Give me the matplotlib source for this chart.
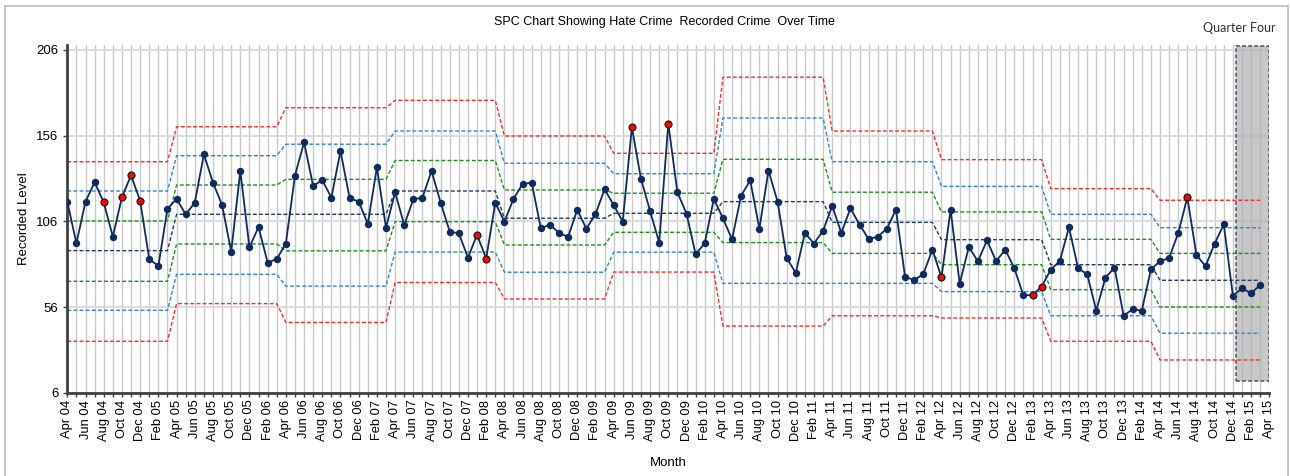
import matplotlib
matplotlib.use("Agg")
import matplotlib.pyplot as plt  # noqa: E402
import numpy as np  # noqa: E402
from matplotlib.lines import Line2D  # noqa: E402
from matplotlib.patches import Rectangle  # noqa: E402

plt.rcParams["font.family"] = ["Liberation Sans", "DejaVu Sans"]

# monthly recorded hate crime, Apr 04 .. Mar 15
recorded = [
    117.5, 93.2, 117.5, 128.8, 117.1, 97.1, 120.0, 132.9, 117.9, 84.0, 79.9, 113.4,
    119.1, 110.1, 116.9, 145.1, 128.6, 115.5, 88.3, 135.4, 90.8, 102.7, 81.9, 84.0,
    93.0, 132.7, 152.1, 126.6, 130.1, 119.8, 147.1, 119.6, 117.5, 104.5, 137.5, 102.3,
    122.9, 103.9, 118.9, 119.8, 135.4, 116.9, 100.0, 99.0, 84.8, 98.2, 84.2, 116.9,
    105.8, 119.1, 127.8, 128.6, 101.9, 104.1, 99.2, 96.9, 112.8, 101.7, 110.1, 124.7,
    115.5, 105.8, 160.9, 130.7, 112.0, 93.6, 163.0, 122.9, 110.5, 86.8, 93.2, 119.1,
    107.8, 95.5, 121.0, 129.9, 101.7, 135.6, 117.5, 84.6, 75.9, 99.2, 93.0, 100.6,
    115.0, 99.2, 113.6, 104.1, 95.7, 97.1, 101.7, 112.8, 73.5, 71.8, 75.1, 89.5,
    73.3, 112.8, 69.6, 91.0, 82.7, 94.9, 82.7, 89.5, 78.6, 62.8, 63.0, 67.9,
    77.8, 82.9, 102.5, 78.6, 75.1, 53.9, 73.1, 79.0, 51.0, 54.7, 53.9, 78.0,
    82.7, 84.6, 99.2, 120.0, 86.2, 79.9, 93.0, 104.3, 62.6, 66.9, 64.0, 68.9,
]
flagged = [4, 6, 7, 8, 45, 46, 62, 66, 96, 106, 107, 123]

# control limits per financial year (Apr-Mar), 2004/05 .. 2014/15
ucl = [140.8, 161.2, 172.3, 176.6, 155.8, 145.7, 190.1, 158.7, 142.0, 125.1, 118.3]
upper_2s = [123.7, 144.3, 151.0, 158.7, 139.9, 133.8, 166.3, 140.8, 126.4, 110.1, 102.3]
upper_1s = [106.2, 127.2, 130.5, 141.5, 124.3, 122.4, 142.2, 123.0, 111.5, 95.5, 87.3]
mean = [88.9, 110.1, 110.1, 123.7, 107.8, 110.7, 117.5, 105.4, 95.3, 80.7, 71.6]
lower_1s = [71.0, 92.8, 88.8, 105.8, 92.2, 99.6, 93.6, 87.3, 80.7, 66.1, 56.0]
lower_2s = [54.1, 75.1, 68.2, 88.1, 76.3, 88.0, 69.8, 69.8, 65.0, 50.9, 40.7]
lcl = [36.0, 58.0, 47.0, 70.3, 60.7, 76.4, 44.9, 50.9, 49.6, 36.0, 25.1]

# highlighted "Quarter Four" period (x span in months, y span in level)
quarter_x = (128.3, 132.0)
quarter_y = (12.8, 208.5)

MON = ["Jan", "Feb", "Mar", "Apr", "May", "Jun",
       "Jul", "Aug", "Sep", "Oct", "Nov", "Dec"]
month_labels = []
for k in range(133):
    m = (3 + k) % 12
    y = 4 + (3 + k) // 12
    month_labels.append(f"{MON[m]} {y:02d}")

W, H = 1290, 476
fig = plt.figure(figsize=(W / 100, H / 100), dpi=100)
ax = fig.add_axes([67.3 / W, 83.3 / H, 1202 / W, 347.7 / H])

x = np.arange(len(recorded))
dash = (0, (2.8, 1.6))
limits = [
    (ucl, "#ff2a2a"), (upper_2s, "#2f86d4"), (upper_1s, "#1a921a"),
    (mean, "#1f3a63"),
    (lower_1s, "#1a921a"), (lower_2s, "#2f86d4"), (lcl, "#ff2a2a"),
]
for vals, col in limits:
    ax.plot(x, np.repeat(vals, 12), color=col, lw=1.0, linestyle=dash, zorder=2)

ax.plot(x, recorded, color="#0e2a5e", lw=1.3, zorder=3)
ax.plot(x, recorded, "o", color="#0e2a5e", ms=4.3, zorder=4)
fx = [x[i] for i in flagged]
fy = [recorded[i] for i in flagged]
ax.plot(fx, fy, "o", mfc="#ff0000", mec="#1a1a1a", mew=0.8, ms=5.0, zorder=5)

ax.add_patch(Rectangle((quarter_x[0], quarter_y[0]),
                       quarter_x[1] - quarter_x[0], quarter_y[1] - quarter_y[0],
                       facecolor="#b0b0b0", alpha=0.7, edgecolor="none", zorder=1))
ax.add_patch(Rectangle((quarter_x[0], quarter_y[0]),
                       quarter_x[1] - quarter_x[0], quarter_y[1] - quarter_y[0],
                       facecolor="none", edgecolor="#44546a", lw=1.1,
                       linestyle=(0, (2.5, 1.5)), zorder=6))

ax.set_xlim(0, 132)
ax.set_ylim(6, 208.9)
ax.set_yticks([6, 56, 106, 156, 206])
ax.set_xticks(range(0, 133, 2))
ax.set_xticklabels(month_labels[::2], rotation=90, fontsize=9.3)
ax.set_xticks(range(1, 132, 2), minor=True)
ax.tick_params(axis="y", labelsize=9.5, direction="out", length=3,
               color="#404040", width=1)
ax.tick_params(axis="x", which="both", direction="out", length=3,
               color="#404040", width=1, pad=2)
ax.set_axisbelow(True)
ax.grid(axis="x", which="both", color="#c8c8c8", lw=1.0)
ax.grid(axis="y", color="#dcdcdc", lw=1.4)
for s in ("top", "right"):
    ax.spines[s].set_visible(False)
for s in ("left", "bottom"):
    ax.spines[s].set_color("#404040")
    ax.spines[s].set_linewidth(2)

ax.set_ylabel("Recorded Level", fontsize=9.5, labelpad=4)
fig.text(668 / W, 1 - 463 / H, "Month", ha="center", va="center", fontsize=9.5)
fig.text(664 / W, 1 - 22 / H, "SPC Chart Showing Hate Crime  Recorded Crime  Over Time",
         ha="center", va="center", fontsize=9)
fig.text(1276 / W, 1 - 28 / H, "Quarter Four", ha="right", va="center",
         fontsize=9, family=["Lato", "DejaVu Sans"], color="#303030")

# outer chart frame
for xs, ys in [((4.7, 4.7), (6, 480)), ((4.7, 1287.7), (6, 6)),
               ((1287.7, 1287.7), (6, 480))]:
    fig.add_artist(Line2D([v / W for v in xs], [1 - v / H for v in ys],
                          color="#bcbcbc", lw=1.2, transform=fig.transFigure))

fig.savefig("out.png", dpi=100)
